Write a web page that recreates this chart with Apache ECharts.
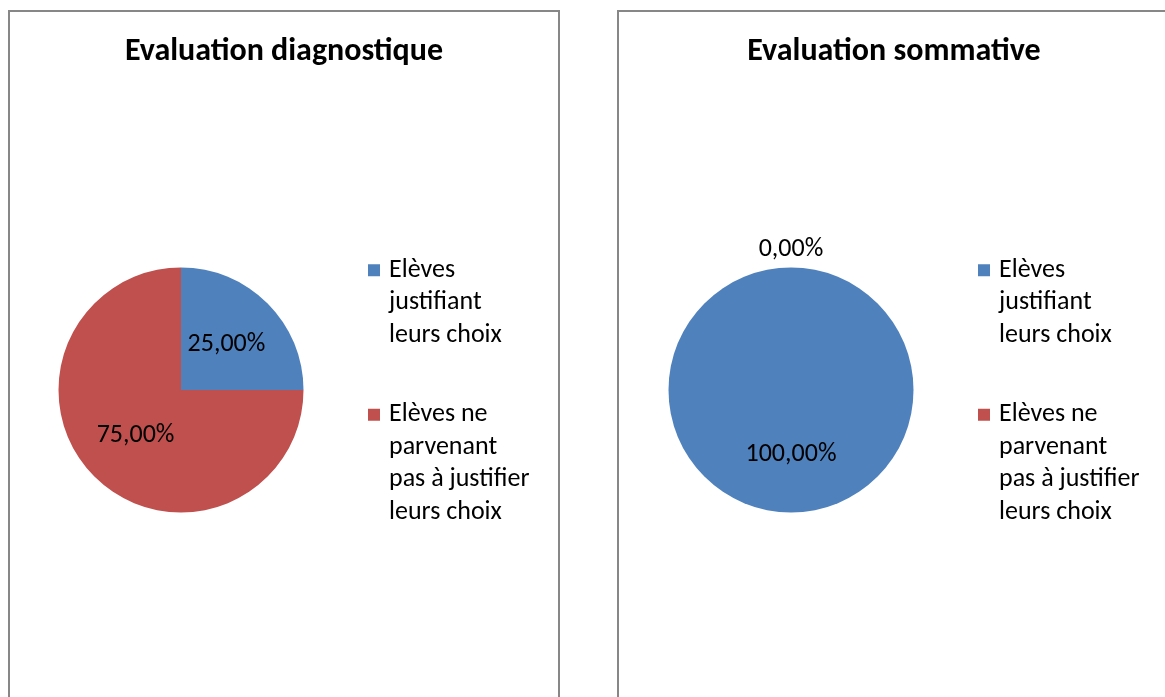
<!DOCTYPE html>
<html>
<head>
<meta charset="utf-8">
<style>
  html, body { margin: 0; padding: 0; background: #fff; }
  #chart { width: 1165px; height: 697px; }
</style>
<script src="https://cdn.jsdelivr.net/npm/echarts@6/dist/echarts.min.js"></script>
</head>
<body>
<div id="chart"></div>
<script>
// categories and values (percent)
const categories = ['Elèves justifiant leurs choix', 'Elèves ne parvenant pas à justifier leurs choix']
const legendLabels = ['Elèves\njustifiant\nleurs choix', 'Elèves ne\nparvenant\npas à justifier\nleurs choix']
const titles = ['Evaluation diagnostique', 'Evaluation sommative']
const diagnostique = [25, 75]
const sommative = [100, 0]

const font = 'Carlito, Calibri, Lato, sans-serif'
const colors = ['#4F81BD', '#C0504D']
const radius = 122.5
const centers = [[181, 390], [791, 390]]
const panels = [[9, 11, 550], [618, 11, 552]]
const legendLeft = [368, 978]
const legendTops = [189, 301]

const chart = echarts.init(document.getElementById('chart'))

function fmt (v) {
  return v.toFixed(2).replace('.', ',') + '%'
}

// the legend centres the text on the icon: pad with empty lines on top
// so the icon sits next to the first line, as in the original
function legendText (n) {
  const lines = legendLabels[categories.indexOf(n)].split('\n')
  return '\n'.repeat(lines.length - 1) + lines.join('\n')
}

let legends = []
legendLeft.forEach(left => {
  categories.forEach((name, i) => {
    legends.push({
      orient: 'vertical',
      left: left,
      top: legendTops[i],
      padding: 0,
      selectedMode: false,
      icon: 'rect',
      itemWidth: 12,
      itemHeight: 12,
      data: [name],
      formatter: legendText,
      textStyle: {
        fontFamily: font,
        fontSize: 26,
        color: '#000',
        lineHeight: 32.5,
        padding: [0, 0, 0, 4]
      }
    })
  })
})

const option = {
  color: colors,
  animation: false,
  legend: legends,
  graphic: [
    ...panels.map(p => ({
      type: 'rect',
      shape: { x: p[0], y: p[1], width: p[2], height: 760 },
      style: { fill: null, stroke: '#878787', lineWidth: 2 }
    })),
    ...titles.map((t, i) => ({
      type: 'text',
      x: panels[i][0] + panels[i][2] / 2,
      y: 52,
      style: {
        text: t,
        fontFamily: font,
        fontSize: 32,
        fontWeight: 'bold',
        fill: '#000',
        align: 'center',
        verticalAlign: 'middle'
      }
    }))
  ],
  series: [diagnostique, sommative].map((vals, s) => ({
    type: 'pie',
    center: centers[s],
    radius: radius,
    startAngle: 90,
    clockwise: true,
    avoidLabelOverlap: false,
    stillShowZeroSum: true,
    itemStyle: { borderWidth: 0 },
    label: {
      show: true,
      position: 'inside',
      fontFamily: font,
      fontSize: 26,
      color: '#000',
      formatter: p => fmt(p.value)
    },
    labelLine: { show: false },
    emphasis: { disabled: true },
    data: vals.map((v, i) => v === 0
      ? {
          name: categories[i],
          value: v,
          label: { position: 'outside', distanceToLabelLine: 0 },
          labelLine: { show: false, length: 4, length2: 0 }
        }
      : { name: categories[i], value: v }),
    labelLayout: function (params) {
      if (vals[params.dataIndex] === 0) {
        return { dx: -params.labelRect.width / 2, dy: -14 }
      }
    }
  }))
}

chart.setOption(option)
window.addEventListener('resize', () => chart.resize())
</script>
</body>
</html>
